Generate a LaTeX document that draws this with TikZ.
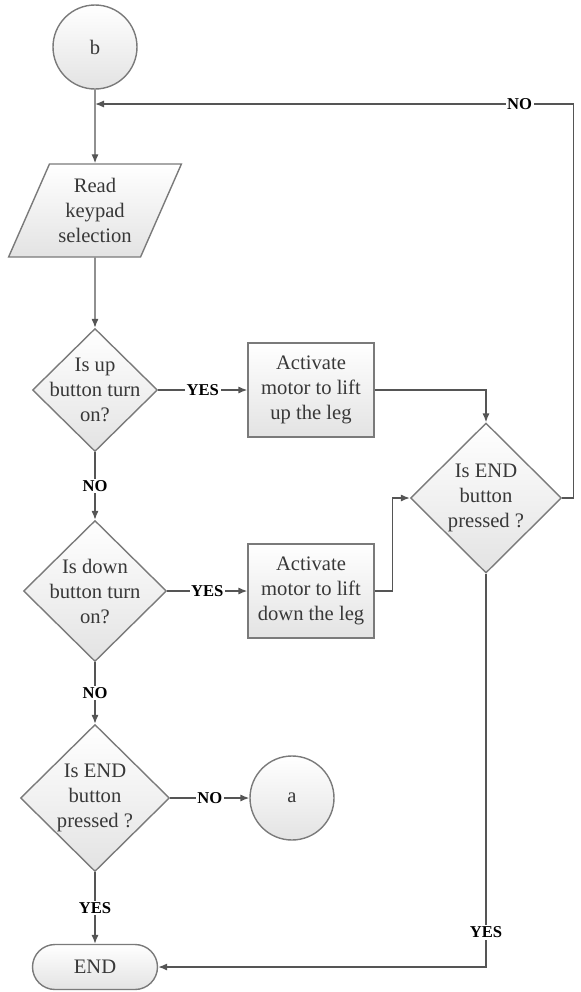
\documentclass[tikz,border=0pt]{standalone}
\usepackage{fontspec}
\setmainfont{Liberation Serif}
\usetikzlibrary{shapes.geometric,arrows.meta}
\definecolor{edgegray}{HTML}{7A7A7A}
\definecolor{linegray}{HTML}{555555}
\definecolor{txtgray}{HTML}{383838}
\begin{document}
\begin{tikzpicture}[x=0.5pt,y=-0.5pt,
  box/.style={draw=edgegray, line width=0.7pt, top color=white, bottom color=black!11,
    text=txtgray, align=center, font=\fontsize{10.3}{12.5}\selectfont, inner sep=0pt},
  decision/.style={box, diamond},
  txt/.style={text=txtgray, align=center, font=\fontsize{10.3}{12.5}\selectfont},
  arr/.style={draw=linegray, line width=0.7pt, -{Latex[length=4.5pt,width=3.6pt]}},
  lbl/.style={fill=white, inner sep=0.8pt, font=\fontsize{8.3}{9}\selectfont\bfseries}]

 \useasboundingbox (0,0) rectangle (580,992);

 % connectors between the pages
 \node[box, circle, minimum size=42pt] (b) at (95,47) {b};
 \node[box, circle, minimum size=42pt] (a) at (292,798) {a};

 % input
 \node[box, trapezium, trapezium left angle=63, trapezium right angle=117, trapezium stretches=true,
   minimum width=87pt, minimum height=46.5pt] (read) at (95,210.5) {Read\\keypad\\selection};

 % decisions on the left
 \node[decision, minimum width=62.5pt, minimum height=61.5pt,
   label={[txt]center:Is up\\button turn\\on?}] (up) at (95,390) {};
 \node[decision, minimum width=71.5pt, minimum height=70.5pt,
   label={[txt]center:Is down\\button turn\\on?}] (down) at (95,591) {};
 \node[decision, minimum width=74.5pt, minimum height=73.5pt,
   label={[txt]center:Is END\\button\\pressed ?}] (endq) at (95,798) {};

 % motor actions
 \node[box, minimum width=63pt, minimum height=47pt] (liftup) at (311,390) {Activate\\motor to lift\\up the leg};
 \node[box, minimum width=63pt, minimum height=47pt] (liftdown) at (311,591) {Activate\\motor to lift\\down the leg};

 % END check on the right
 \node[decision, minimum width=75.5pt, minimum height=75pt,
   label={[txt]center:Is END\\button\\pressed ?}] (endr) at (486,498) {};

 \node[box, rounded corners=11.25pt, minimum width=62.5pt, minimum height=22.5pt] (stop) at (95,967) {END};

 \coordinate (back) at (95,104);

 % main flow
 \draw[arr] (b) -- (read);
 \draw[arr] (read) -- (up);
 \draw[arr] (up) -- node[lbl] {YES} (liftup);
 \draw[arr] (up) -- node[lbl] {NO} (down);
 \draw[arr] (down) -- node[lbl] {YES} (liftdown);
 \draw[arr] (down) -- node[lbl] {NO} (endq);
 \draw[arr] (endq) -- node[lbl] {NO} (a);
 \draw[arr] (endq) -- node[lbl] {YES} (stop);

 % into the right check
 \draw[arr] (liftup.east) -| (endr.north);
 \draw[arr] (liftdown.east) -- ++(18,0) |- (endr.west);

 % results of the right check
 \draw[arr] (endr.east) -- ++(11,0) |- node[lbl, pos=0.556] {NO} (back);
 \draw[arr] (endr.south) |- node[lbl, pos=0.456] {YES} (stop.east);

\end{tikzpicture}
\end{document}
